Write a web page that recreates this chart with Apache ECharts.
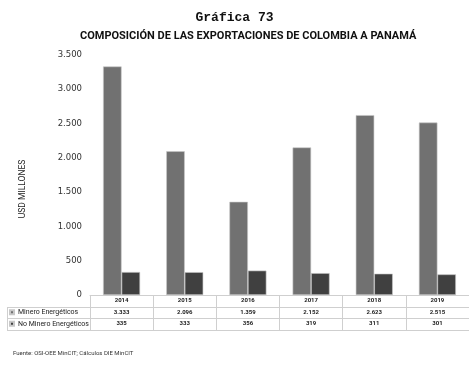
<!DOCTYPE html>
<html>
<head>
<meta charset="utf-8">
<script src="https://cdn.jsdelivr.net/npm/echarts@6/dist/echarts.min.js"></script>
<style>
  html, body { margin: 0; padding: 0; background: #fff; }
  #chart { width: 469px; height: 372px; }
</style>
</head>
<body>
<div id="chart"></div>
<script>
// Exportaciones de Colombia a Panamá, USD millones
const years = ['2014', '2015', '2016', '2017', '2018', '2019'];
const mineroEnergeticos = [3333, 2096, 1359, 2152, 2623, 2515];
const noMineroEnergeticos = [335, 333, 356, 319, 311, 301];
const seriesNames = ['Minero Energéticos', 'No Minero Energéticos'];
const seriesColors = ['#717171', '#404040'];

// Layout of the plot and the data table beneath it
const GRID_LEFT = 90;
const GRID_TOP = 55;
const AXIS_Y = 295;          // baseline of the bars / top of the table
const ROW_H = 11.5;          // height of one table row
const TABLE_LEFT = 7;
const TABLE_RIGHT = 474;
const LINE_COLOR = '#cfcfcf';

// Spanish number format: thousands separated by a dot
function fmt(v) {
  return String(v).replace(/\B(?=(\d{3})+(?!\d))/g, '.');
}

const chart = echarts.init(document.getElementById('chart'));

const rowLines = [1, 2, 3].map(function (i) {
  const y = Math.round(AXIS_Y + ROW_H * i) + 0.5;
  return {
    type: 'line',
    shape: { x1: TABLE_LEFT, y1: y, x2: TABLE_RIGHT, y2: y },
    style: { stroke: LINE_COLOR, lineWidth: 1 },
    silent: true
  };
});

chart.setOption({
  animation: false,
  backgroundColor: '#ffffff',
  title: [
    {
      text: 'Gráfica 73',
      left: 'center',
      top: 6,
      textStyle: { fontFamily: 'Liberation Mono', fontWeight: 'bold', fontSize: 13, color: '#111' }
    },
    {
      text: 'COMPOSICIÓN DE LAS EXPORTACIONES DE COLOMBIA A PANAMÁ',
      left: 80,
      top: 31,
      padding: 0,
      textStyle: { fontFamily: 'Roboto', fontWeight: 'bold', fontSize: 11, color: '#111' }
    },
    {
      text: 'Fuente: OSI-OEE MinCIT; Cálculos DIE MinCIT',
      left: 13,
      top: 350,
      padding: 0,
      textStyle: { fontFamily: 'Roboto', fontWeight: 'normal', fontSize: 6, color: '#333' }
    }
  ],
  legend: {
    orient: 'vertical',
    left: TABLE_LEFT + 2,
    top: AXIS_Y + ROW_H,
    itemWidth: 4,
    itemHeight: 4,
    itemGap: 0,
    icon: 'rect',
    padding: 0,
    data: seriesNames,
    textStyle: {
      fontFamily: 'Roboto',
      fontSize: 7,
      color: '#222',
      lineHeight: ROW_H,
      padding: [0, 0, 0, -1]
    }
  },
  grid: {
    left: GRID_LEFT,
    top: GRID_TOP,
    right: 469 - TABLE_RIGHT,
    bottom: 372 - AXIS_Y,
    containLabel: false
  },
  xAxis: {
    type: 'category',
    data: years,
    axisLine: { show: true, lineStyle: { color: LINE_COLOR, width: 1 } },
    axisTick: {
      show: true,
      alignWithLabel: false,
      length: Math.round(ROW_H * 3),
      lineStyle: { color: LINE_COLOR, width: 1 }
    },
    axisLabel: {
      margin: 0,
      interval: 0,
      formatter: function (val, idx) {
        return '{y|' + val + '}\n{v|' + fmt(mineroEnergeticos[idx]) + '}\n{v|' + fmt(noMineroEnergeticos[idx]) + '}';
      },
      rich: {
        y: { fontFamily: 'Roboto', fontSize: 6, fontWeight: 'bold', color: '#222', lineHeight: ROW_H, align: 'center' },
        v: { fontFamily: 'Roboto', fontSize: 6, fontWeight: 'bold', color: '#222', lineHeight: ROW_H, align: 'center' }
      }
    }
  },
  yAxis: {
    type: 'value',
    min: 0,
    max: 3500,
    interval: 500,
    name: 'USD MILLONES',
    nameLocation: 'middle',
    nameGap: 63,
    nameRotate: 90,
    nameTextStyle: {
      fontFamily: 'Roboto',
      fontSize: 8.5,
      color: '#222',
      padding: [0, 28, 0, 0]
    },
    axisLine: { show: false },
    axisTick: { show: false },
    splitLine: { show: false },
    axisLabel: {
      margin: 8,
      fontFamily: 'DejaVu Sans',
      fontSize: 8.5,
      color: '#333',
      formatter: function (v) { return fmt(v); }
    }
  },
  series: [
    {
      name: seriesNames[0],
      type: 'bar',
      data: mineroEnergeticos,
      barWidth: 18.5,
      barGap: '0%',
      itemStyle: { color: seriesColors[0], borderColor: '#c8c8c8', borderWidth: 0.6 }
    },
    {
      name: seriesNames[1],
      type: 'bar',
      data: noMineroEnergeticos,
      barWidth: 18.5,
      itemStyle: { color: seriesColors[1], borderColor: '#c8c8c8', borderWidth: 0.6 }
    }
  ],
  graphic: rowLines.concat([
    {
      type: 'line',
      shape: { x1: TABLE_LEFT + 0.5, y1: Math.round(AXIS_Y + ROW_H) + 0.5, x2: TABLE_LEFT + 0.5, y2: Math.round(AXIS_Y + ROW_H * 3) + 0.5 },
      style: { stroke: LINE_COLOR, lineWidth: 1 },
      silent: true
    }
  ])
});
</script>
</body>
</html>
